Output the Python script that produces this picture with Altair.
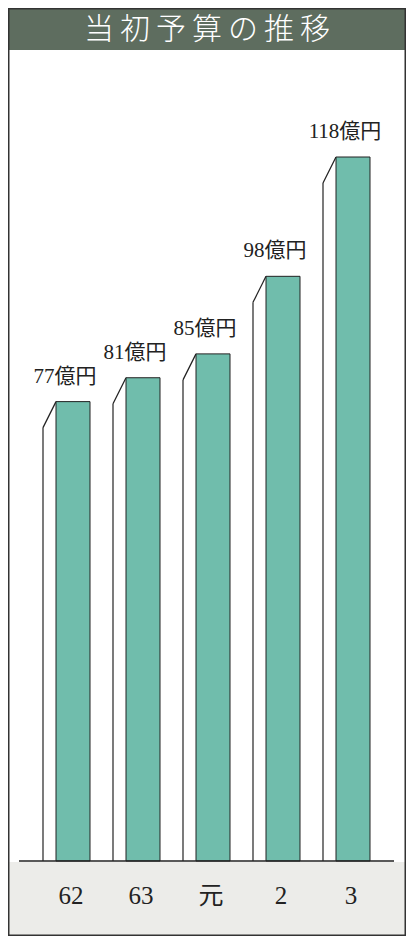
import altair as alt
import pandas as pd

years = ["62", "63", "元", "2", "3"]
budget = [77, 81, 85, 98, 118]
unit = "億円"
title_text = "当初予算の推移"

df = pd.DataFrame({"year": years, "value": budget, "zero": [0] * len(budget)})
df["label"] = [f"{v}{unit}" for v in budget]
one = pd.DataFrame({"k": [0]})

W, H = 398, 928
INK = "#222222"
SERIF = "Liberation Serif, Noto Sans CJK JP"

x = alt.X("year:N", sort=years,
          scale=alt.Scale(type="point", range=[65, 345], padding=0), axis=None)
y = alt.Y("value:Q", scale=alt.Scale(domain=[0, 118], range=[853, 149]), axis=None)

base = alt.Chart(df)

title_bar = alt.Chart(one).mark_rect(color="#5e6d5f").encode(
    x=alt.value(0), x2=alt.value(W), y=alt.value(0), y2=alt.value(42))
foot = alt.Chart(one).mark_rect(color="#ecece9").encode(
    x=alt.value(0), x2=alt.value(W), y=alt.value(854), y2=alt.value(H))
title = alt.Chart(one).mark_text(
    text="\u2009".join(title_text), font="Noto Sans CJK JP", fontSize=30, fontWeight=300,
    color="white", align="center", baseline="middle").encode(
    x=alt.value(W / 2), y=alt.value(22))

side_edge = base.mark_rule(color=INK, strokeWidth=1.2, xOffset=-30, yOffset=26).encode(
    x=x, y=y, y2=alt.Y2("zero"))
diag = base.mark_rule(color=INK, strokeWidth=1.2, xOffset=-17, x2Offset=-30, y2Offset=26).encode(
    x=x, x2=alt.X2("year"), y=y, y2=alt.Y2("value"))
front = base.mark_bar(size=34, color="#70bdac", stroke=INK, strokeWidth=1).encode(
    x=x, y=y, y2=alt.Y2("zero"))
baseline = alt.Chart(one).mark_rule(color=INK, strokeWidth=1.5).encode(
    x=alt.value(11), x2=alt.value(386), y=alt.value(853))
labels = base.mark_text(font=SERIF, fontSize=21, dx=-8, dy=-19, baseline="alphabetic", color=INK).encode(
    x=x, y=y, text="label")
ticks = base.mark_text(font=SERIF, fontSize=25, dx=-2, baseline="middle", color=INK).encode(
    x=x, y=alt.value(888), text="year")
frame = alt.Chart(one).mark_rect(filled=False, stroke="#333333", strokeWidth=1.5).encode(
    x=alt.value(0.75), x2=alt.value(W - 0.75), y=alt.value(0.75), y2=alt.value(H - 0.75))

chart = alt.layer(title_bar, foot, title, side_edge, diag, front, baseline, labels, ticks, frame).properties(
    width=W, height=H, padding=0, autosize="none", background="white"
).configure_view(strokeWidth=0)

chart.save("out.html", embed_options={"renderer": "svg", "actions": False})
